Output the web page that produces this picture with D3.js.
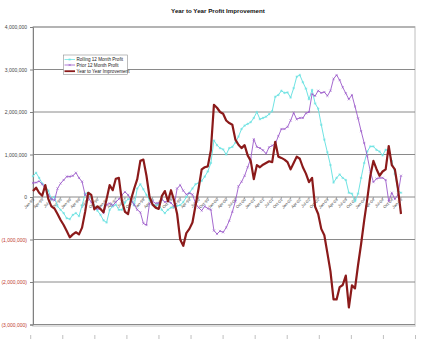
<!DOCTYPE html>
<html><head><meta charset="utf-8">
<script src="https://cdn.jsdelivr.net/npm/d3@7"></script>
<style>body{margin:0;background:#fff}svg{display:block}text{font-family:"Liberation Sans",Arial,sans-serif}</style>
</head><body><svg id="c" width="432" height="339"></svg>
<script>
const title = "Year to Year Profit Improvement";
const seriesNames = ["Rolling 12 Month Profit", "Prior 12 Month Profit", "Year to Year Improvement"];
const monthNames = ["Jan","Feb","Mar","Apr","May","Jun","Jul","Aug","Sep","Oct","Nov","Dec"];
const startYear = 1995;
const yTicks = [4000000,3000000,2000000,1000000,0,-1000000,-2000000,-3000000];

// values in millions
const rolling = [0.49,0.57,0.45,0.32,0.25,0.15,-0.05,0.0,-0.22,-0.3,-0.38,-0.5,-0.52,-0.42,-0.38,-0.45,-0.2,0.08,0.1,-0.02,
-0.22,-0.32,-0.42,-0.55,-0.6,-0.3,-0.22,-0.18,-0.3,-0.3,-0.13,-0.05,-0.05,-0.2,0.2,0.3,0.18,0.05,-0.08,-0.18,
-0.2,-0.17,-0.3,-0.38,-0.3,-0.25,-0.23,-0.21,-0.19,-0.12,0.0,0.1,0.2,0.3,0.33,0.38,0.48,0.6,0.8,1.33,
1.22,1.15,1.12,1.0,1.15,1.18,1.28,1.42,1.6,1.68,1.72,1.76,1.86,2.0,1.83,1.86,1.89,1.95,2.02,2.36,
2.4,2.5,2.45,2.46,2.34,2.56,2.83,2.87,2.7,2.55,2.3,2.52,2.2,2.08,1.7,1.35,1.05,0.75,0.34,0.45,
0.53,0.45,0.4,0.1,0.08,-0.1,0.08,0.45,0.8,1.07,1.19,1.19,1.11,1.07,0.98,1.11,1.1,0.85,0.55,0.15,0.1];
const prior = [0.33,0.34,0.37,0.3,0.2,0.05,-0.05,-0.08,0.2,0.32,0.4,0.48,0.48,0.5,0.57,0.45,0.36,0.05,-0.01,-0.12,
-0.25,-0.28,-0.28,-0.38,-0.18,-0.15,-0.2,-0.12,-0.05,0.05,0.12,0.05,-0.08,-0.18,-0.3,-0.36,-0.62,-0.66,-0.15,-0.1,
-0.15,-0.14,-0.05,-0.12,-0.1,-0.14,-0.22,0.2,0.28,0.15,0.06,0.09,0.06,-0.15,-0.25,-0.32,-0.22,-0.27,-0.3,-0.79,
-0.87,-0.8,-0.83,-0.72,-0.56,-0.35,-0.1,0.25,0.36,0.5,0.7,0.9,1.36,1.18,1.15,1.1,1.02,1.17,1.21,1.25,
1.43,1.6,1.6,1.65,1.8,1.98,1.83,1.86,1.86,1.97,2.0,2.42,2.38,2.5,2.45,2.47,2.38,2.5,2.78,2.87,
2.75,2.58,2.44,2.3,2.4,2.13,1.85,1.55,1.27,0.96,0.6,0.35,0.43,0.45,0.45,0.4,-0.1,0.1,-0.05,0.05,0.5];
const improvement = [0.14,0.22,0.1,0.03,0.28,-0.05,-0.22,-0.27,-0.4,-0.54,-0.66,-0.8,-0.95,-0.88,-0.83,-0.88,-0.72,-0.35,0.1,0.05,
-0.29,-0.22,-0.28,-0.36,-0.05,0.28,0.16,0.43,0.45,-0.1,-0.35,-0.4,-0.05,0.2,0.42,0.85,0.88,0.5,0.0,-0.18,
-0.25,-0.28,0.02,0.14,-0.1,0.16,-0.08,-0.4,-1.0,-1.15,-0.85,-0.75,-0.6,-0.2,0.2,0.65,0.7,0.72,1.1,2.17,
2.1,2.0,1.96,1.8,1.74,1.7,1.35,1.23,1.15,1.22,0.98,0.85,0.42,0.75,0.7,0.76,0.8,0.84,0.82,1.3,
0.95,0.92,0.88,0.82,0.65,0.8,0.95,0.9,0.7,0.55,0.35,0.45,-0.23,-0.4,-0.75,-0.9,-1.32,-1.75,-2.41,-2.41,
-2.12,-2.07,-1.85,-2.6,-2.08,-2.15,-1.6,-1.1,-0.55,-0.05,0.5,0.85,0.66,0.5,0.6,0.65,1.2,0.75,0.65,0.2,-0.4];

const categories = rolling.map((_, i) => monthNames[i % 12] + "-" + String((startYear + Math.floor(i / 12)) % 100).padStart(2, "0"));

const svg = d3.select("#c");
const L = 33, R = 415, T = 27, B = 324.5;
const x = d3.scalePoint().domain(categories).range([33, 401]);
const y = d3.scaleLinear().domain([-3000000, 4000000]).range([B, T]);

// plot area border
svg.append("rect").attr("x", L).attr("y", T).attr("width", R - L).attr("height", B - T + 1.5)
  .attr("fill", "none").attr("stroke", "#d4d4d4").attr("stroke-width", 1.5);

// gridlines
svg.append("g").selectAll("line").data(yTicks).join("line")
  .attr("x1", L).attr("x2", R).attr("y1", d => y(d)).attr("y2", d => y(d))
  .attr("stroke", "#8a8a8a").attr("stroke-width", 1);

// y axis
const fmt = d3.format(",");
const yAxis = d3.axisLeft(y).tickValues(yTicks).tickSize(3).tickPadding(3)
  .tickFormat(d => d < 0 ? "(" + fmt(-d) + ")" : fmt(d));
const ga = svg.append("g").attr("transform", `translate(${L},0)`).call(yAxis);
ga.select(".domain").attr("stroke", "#808080");
ga.selectAll(".tick line").attr("stroke", "#808080");
ga.selectAll(".tick text").attr("font-size", 5).attr("fill", d => d < 0 ? "#c0392b" : "#444");

// x axis at zero
const y0 = y(0);
const xl = svg.append("g");
xl.selectAll("line").data(categories.filter((_, i) => i % 3 === 0)).join("line")
  .attr("x1", d => x(d)).attr("x2", d => x(d)).attr("y1", y0).attr("y2", y0 + 2)
  .attr("stroke", "#808080").attr("stroke-width", 0.6);
xl.selectAll("text").data(categories.filter((_, i) => i % 3 === 0)).join("text")
  .attr("transform", d => `translate(${x(d) + 1.5},${y0 + 3}) rotate(-45)`)
  .attr("text-anchor", "end").attr("font-size", 4).attr("fill", "#444").text(d => d);

// bottom small ticks
const bx = d3.scaleLinear().domain([0, 12]).range([30.7, 415.5]);
svg.append("g").selectAll("line").data(d3.range(13)).join("line")
  .attr("x1", d => bx(d)).attr("x2", d => bx(d)).attr("y1", 335).attr("y2", 339)
  .attr("stroke", "#b0b0b0").attr("stroke-width", 0.8);

const line = d3.line().x((d, i) => x(categories[i])).y(d => y(d * 1e6));

const cCyan = "#6fe3e3", cPurple = "#9b59c9", cRed = "#8b1a1a";

// cyan
svg.append("path").datum(rolling).attr("d", line).attr("fill", "none").attr("stroke", cCyan).attr("stroke-width", 1);
const star = (g, px, py, c, s) => {
  g.append("path").attr("d", `M${px-s},${py}H${px+s}M${px},${py-s}V${py+s}M${px-s*0.7},${py-s*0.7}L${px+s*0.7},${py+s*0.7}M${px-s*0.7},${py+s*0.7}L${px+s*0.7},${py-s*0.7}`)
    .attr("stroke", c).attr("stroke-width", 0.5).attr("fill", "none");
};
const xmark = (g, px, py, c, s) => {
  g.append("path").attr("d", `M${px-s},${py-s}L${px+s},${py+s}M${px-s},${py+s}L${px+s},${py-s}`)
    .attr("stroke", c).attr("stroke-width", 0.6).attr("fill", "none");
};
const gc = svg.append("g");
rolling.forEach((d, i) => star(gc, x(categories[i]), y(d * 1e6), cCyan, 1.3));

// purple
svg.append("path").datum(prior).attr("d", line).attr("fill", "none").attr("stroke", cPurple).attr("stroke-width", 0.9);
const gp = svg.append("g");
prior.forEach((d, i) => xmark(gp, x(categories[i]), y(d * 1e6), cPurple, 1.1));

// red
svg.append("path").datum(improvement).attr("d", line).attr("fill", "none").attr("stroke", cRed).attr("stroke-width", 2.2).attr("stroke-linejoin", "round");

// title
svg.append("text").attr("x", 218).attr("y", 12.5).attr("text-anchor", "middle")
  .attr("font-size", 6.2).attr("font-weight", "bold").attr("fill", "#111").text(title);

// legend
const lg = svg.append("g");
lg.append("rect").attr("x", 63.5).attr("y", 55).attr("width", 64).attr("height", 19.5)
  .attr("fill", "#fff").attr("stroke", "#909090").attr("stroke-width", 0.6);
const rows = [59.5, 65, 71.2];
const cols = [cCyan, cPurple, cRed];
seriesNames.forEach((n, i) => {
  lg.append("line").attr("x1", 64.5).attr("x2", 75).attr("y1", rows[i]).attr("y2", rows[i])
    .attr("stroke", cols[i]).attr("stroke-width", i === 2 ? 1.8 : 0.8);
  if (i === 0) star(lg, 69.7, rows[i], cCyan, 1.3);
  if (i === 1) xmark(lg, 69.7, rows[i], cPurple, 1.1);
  lg.append("text").attr("x", 76.5).attr("y", rows[i] + 1.6).attr("font-size", 4.6).attr("fill", "#222").text(n);
});
</script></body></html>
